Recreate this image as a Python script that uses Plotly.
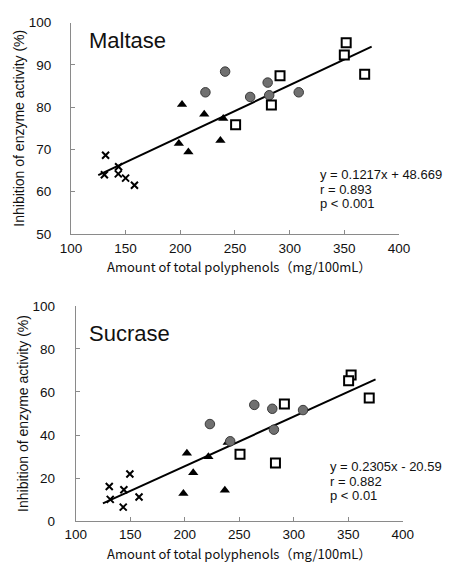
import plotly.graph_objects as go

# ---- data: Maltase ----
m_cross_x = [131.7, 130.6, 143.6, 143.3, 150.0, 158.1]
m_cross_y = [68.6, 64.0, 65.9, 64.2, 63.2, 61.5]
m_tri_x = [201.6, 221.9, 239.3, 198.7, 207.4, 236.7]
m_tri_y = [80.6, 78.3, 77.3, 71.4, 69.4, 72.1]
m_circ_x = [241.0, 223.0, 263.9, 279.9, 281.3, 308.3]
m_circ_y = [88.4, 83.5, 82.4, 85.8, 82.8, 83.5]
m_sq_x = [351.7, 350.0, 368.6, 291.2, 283.3, 250.6]
m_sq_y = [95.2, 92.3, 87.8, 87.4, 80.5, 75.8]
m_slope, m_intercept = 0.1217, 48.669

# ---- data: Sucrase ----
s_cross_x = [130.8, 131.7, 144.2, 149.7, 143.6, 158.1]
s_cross_y = [16.1, 10.1, 14.6, 21.9, 6.5, 11.2]
s_tri_x = [202.0, 207.8, 221.7, 198.8, 236.8, 239.4]
s_tri_y = [31.5, 22.5, 29.9, 12.8, 14.3, 36.5]
s_circ_x = [223.1, 241.7, 263.8, 280.3, 281.8, 308.5]
s_circ_y = [45.1, 37.1, 54.0, 52.2, 42.5, 51.6]
s_sq_x = [352.6, 350.3, 369.2, 291.4, 250.7, 283.2]
s_sq_y = [67.9, 65.2, 57.2, 54.4, 31.1, 27.0]
s_slope, s_intercept = 0.2305, -20.59

fit_x = [125, 375]

x_ticks = [100, 150, 200, 250, 300, 350, 400]
m_y_ticks = [50, 60, 70, 80, 90, 100]
s_y_ticks = [0, 20, 40, 60, 80, 100]

m_eq = ["y = 0.1217x + 48.669", "r = 0.893", "p < 0.001"]
s_eq = ["y = 0.2305x - 20.59", "r = 0.882", "p < 0.01"]

fig = go.Figure()

def add_set(cx, cy, tx, ty, ox, oy, qx, qy, slope, icpt, xa, ya):
    fig.add_trace(go.Scatter(x=[fit_x[0], fit_x[1]],
                             y=[slope * fit_x[0] + icpt, slope * fit_x[1] + icpt],
                             mode="lines", line=dict(color="black", width=2),
                             xaxis=xa, yaxis=ya, hoverinfo="skip"))
    fig.add_trace(go.Scatter(x=cx, y=cy, mode="markers", xaxis=xa, yaxis=ya,
                             marker=dict(symbol="x-thin", size=7,
                                         line=dict(color="black", width=2))))
    fig.add_trace(go.Scatter(x=tx, y=ty, mode="markers", xaxis=xa, yaxis=ya,
                             marker=dict(symbol="triangle-up", size=9, color="black")))
    fig.add_trace(go.Scatter(x=ox, y=oy, mode="markers", xaxis=xa, yaxis=ya,
                             marker=dict(symbol="circle", size=9.5, color="#707070",
                                         line=dict(color="#3a3a3a", width=1))))
    fig.add_trace(go.Scatter(x=qx, y=qy, mode="markers", xaxis=xa, yaxis=ya,
                             marker=dict(symbol="square", size=9, color="white",
                                         line=dict(color="black", width=2))))

add_set(m_cross_x, m_cross_y, m_tri_x, m_tri_y, m_circ_x, m_circ_y, m_sq_x, m_sq_y,
        m_slope, m_intercept, "x", "y")
add_set(s_cross_x, s_cross_y, s_tri_x, s_tri_y, s_circ_x, s_circ_y, s_sq_x, s_sq_y,
        s_slope, s_intercept, "x2", "y2")

W, H = 449, 570
tickfont = dict(family="Liberation Sans, Arial, sans-serif", size=13.5, color="#111")
axis_common = dict(showline=True, linecolor="#8a8a8a", linewidth=1, ticks="inside",
                   ticklen=4, tickcolor="#8a8a8a", showgrid=False, zeroline=False,
                   tickfont=tickfont, mirror=False)

lab_font = dict(family="Liberation Sans, Arial, sans-serif", size=14, color="#111")
ytitle = "Inhibition of enzyme activity (%)"

fig.update_layout(
    width=W, height=H, margin=dict(l=0, r=0, t=0, b=0),
    paper_bgcolor="white", plot_bgcolor="white", showlegend=False,
    xaxis=dict(domain=[63 / W, 408 / W], range=[100, 400], tickvals=x_ticks,
               anchor="y", ticklabelstandoff=2, **axis_common),
    yaxis=dict(domain=[1 - 233 / H, 1 - 16 / H], range=[50, 100], tickvals=m_y_ticks,
               anchor="x", ticklabelstandoff=16,
               title=dict(text=ytitle, font=lab_font, standoff=0), **axis_common),
    xaxis2=dict(domain=[68 / W, 412 / W], range=[100, 400], tickvals=x_ticks,
                anchor="y2", ticklabelstandoff=1, **axis_common),
    yaxis2=dict(domain=[1 - 528 / H, 1 - 307 / H], range=[0, 100], tickvals=s_y_ticks,
                anchor="x2", ticklabelstandoff=17,
                title=dict(text=ytitle, font=lab_font, standoff=0), **axis_common),
)

ann = []
xt_font = dict(family="Noto Sans CJK JP, sans-serif", size=13, color="#111")
big_font = dict(family="Liberation Sans, Arial, sans-serif", size=22, color="#111")
eq_font = dict(family="Liberation Sans, Arial, sans-serif", size=13, color="#111")

xtitle = "Amount of total polyphenols（mg/100mL）"

# x titles
ann.append(dict(x=240 / W, y=1 - 266 / H, text=xtitle, font=xt_font))
ann.append(dict(x=240 / W, y=1 - 561.5 / H, text=xtitle, font=xt_font))
# panel names
ann.append(dict(x=80 / W, y=1 - 34 / H, text="Maltase", font=big_font, xanchor="left"))
ann.append(dict(x=80 / W, y=1 - 335 / H, text="Sucrase", font=big_font, xanchor="left"))
# equations
for i, t in enumerate(m_eq):
    ann.append(dict(x=323 / W, y=1 - (172 + 15 * i) / H, text=t, font=eq_font,
                    xanchor="left"))
for i, t in enumerate(s_eq):
    ann.append(dict(x=333 / W, y=1 - (472 + 15 * i) / H, text=t, font=eq_font,
                    xanchor="left"))

for a in ann:
    a.update(xref="paper", yref="paper", showarrow=False)
    a.setdefault("xanchor", "center")
    a.setdefault("yanchor", "middle")
fig.update_layout(annotations=ann)

fig.write_html("out.html")
